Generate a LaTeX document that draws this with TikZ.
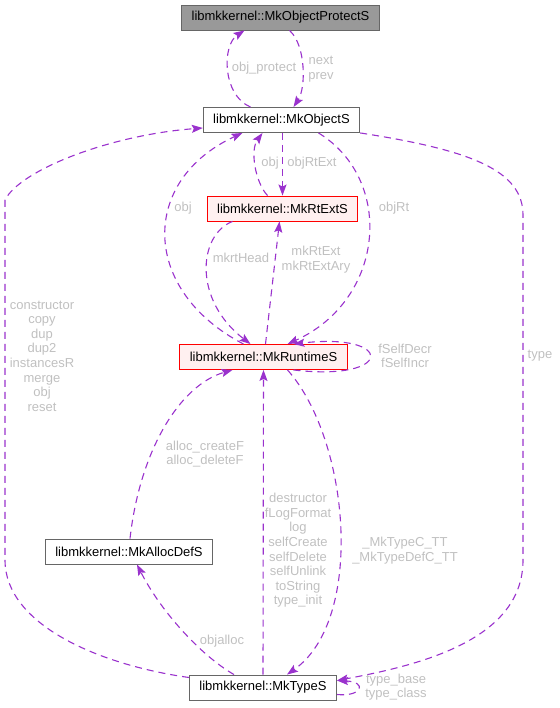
\documentclass[tikz,border=0pt]{standalone}
\usepackage{fontspec}
\setmainfont{Liberation Sans}
\usetikzlibrary{arrows.meta}
\definecolor{edgecol}{RGB}{154,50,205}
\definecolor{lblgray}{RGB}{192,192,192}
\definecolor{boxline}{RGB}{102,102,102}
\definecolor{rtfill}{RGB}{255,240,240}
\definecolor{protfill}{RGB}{153,153,153}
\tikzset{
  cls/.style={rectangle,draw=boxline,fill=white,line width=0.9pt,
              minimum height=25pt,inner xsep=10pt,
              font=\fontsize{13}{15}\selectfont},
  clsred/.style={cls,draw=red,fill=rtfill},
  clsgray/.style={cls,fill=protfill},
  lbl/.style={font=\fontsize{13}{14.6}\selectfont,text=lblgray,
              align=center,inner sep=0pt},
  coll/.style={-{Stealth[length=11pt,width=8pt,inset=2pt]},edgecol,
               line width=1.1pt,dash pattern=on 7pt off 5pt},
}
\begin{document}
\begin{tikzpicture}[x=1pt,y=-1pt]
  \useasboundingbox (0,0) rectangle (559,708);

  \node[clsgray] (ops) at (280.5,17.5)  {libmkkernel::MkObjectProtectS};
  \node[cls]     (os)  at (281.5,120)   {libmkkernel::MkObjectS};
  \node[clsred]  (rte) at (282.5,208.5) {libmkkernel::MkRtExtS};
  \node[clsred]  (rt)  at (263.5,357)   {libmkkernel::MkRuntimeS};
  \node[cls]     (ad)  at (129,551.5)   {libmkkernel::MkAllocDefS};
  \node[cls]     (ts)  at (263,687.5)   {libmkkernel::MkTypeS};

  \draw[coll] ([xshift=-31]os.north) .. controls (222,95) and (222,45) .. ([xshift=-36]ops.south);
  \draw[coll] ([xshift=9]ops.south) .. controls (306,45) and (306,88) .. ([xshift=12]os.north);
  \draw[coll] ([xshift=-15]rte.north) .. controls (255,182) and (250,150) .. ([xshift=-19]os.south);
  \draw[coll] ([xshift=1]os.south) -- (rte.north);
  \draw[coll] ([xshift=-20]rt.north) .. controls (140,290) and (140,180) .. ([xshift=-39]os.south);
  \draw[coll] ([xshift=37]os.south) .. controls (395,180) and (385,300) .. ([xshift=24]rt.north);
  \draw[coll] ([xshift=-50]rte.south) .. controls (198,235) and (193,300) .. ([xshift=-13]rt.north);
  \draw[coll] ([xshift=2]rt.north) -- ([xshift=-3]rte.south);
  \draw[coll] ([xshift=30]rt.south) .. controls (395,382) and (395,332) .. ([xshift=30]rt.north);
  \draw[coll] ([yshift=10]ts.west) .. controls (100,665) and (5,625) .. (5,560)
      -- (5,200) .. controls (20,170) and (110,135) .. ([yshift=-8]os.west);
  \draw[coll] (os.south east) .. controls (470,150) and (523,170) .. (523,215)
      -- (523,560) .. controls (523,640) and (420,665) .. ([yshift=7]ts.east);
  \draw[coll] ([yshift=-7]ts.east) .. controls (362,697) and (368,682) .. ([yshift=7]ts.east);
  \draw[coll] ([xshift=1]ad.north) .. controls (140,450) and (180,385) .. ([xshift=-31]rt.south);
  \draw[coll] ([xshift=-29]ts.north) .. controls (200,655) and (160,610) .. ([xshift=8]ad.south);
  \draw[coll] (ts.north) -- (rt.south);
  \draw[coll] ([xshift=24]rt.south) .. controls (350,440) and (365,620) .. ([xshift=24]ts.north);

  \node[lbl] (lprot)  at (264,68)    {obj\_protect};
  \node[lbl] (lnext)  at (321,69)    {next\\prev};
  \node[lbl] (lobja)  at (270,163)   {obj};
  \node[lbl] (lrtext) at (312,163)   {objRtExt};
  \node[lbl] (lobjb)  at (183,208)   {obj};
  \node[lbl] (lobjrt) at (394,208)   {objRt};
  \node[lbl] (lhead)  at (241,258)   {mkrtHead};
  \node[lbl] (lmkrt)  at (316,259.5) {mkRtExt\\mkRtExtAry};
  \node[lbl] (lself)  at (405,356)   {fSelfDecr\\fSelfIncr};
  \node[lbl] (lctor)  at (42,356)    {constructor\\copy\\dup\\dup2\\instancesR\\merge\\obj\\reset};
  \node[lbl] (ltype)  at (540,356)   {type};
  \node[lbl] (lalloc) at (205,454)   {alloc\_createF\\alloc\_deleteF};
  \node[lbl] (ldtor)  at (298,550.5) {destructor\\fLogFormat\\log\\selfCreate\\selfDelete\\selfUnlink\\toString\\type\_init};
  \node[lbl] (ltc)    at (405,550.5) {\_MkTypeC\_TT\\\_MkTypeDefC\_TT};
  \node[lbl] (loa)    at (222,641)   {objalloc};
  \node[lbl] (ltbase) at (396,687)   {type\_base\\type\_class};
\end{tikzpicture}
\end{document}
